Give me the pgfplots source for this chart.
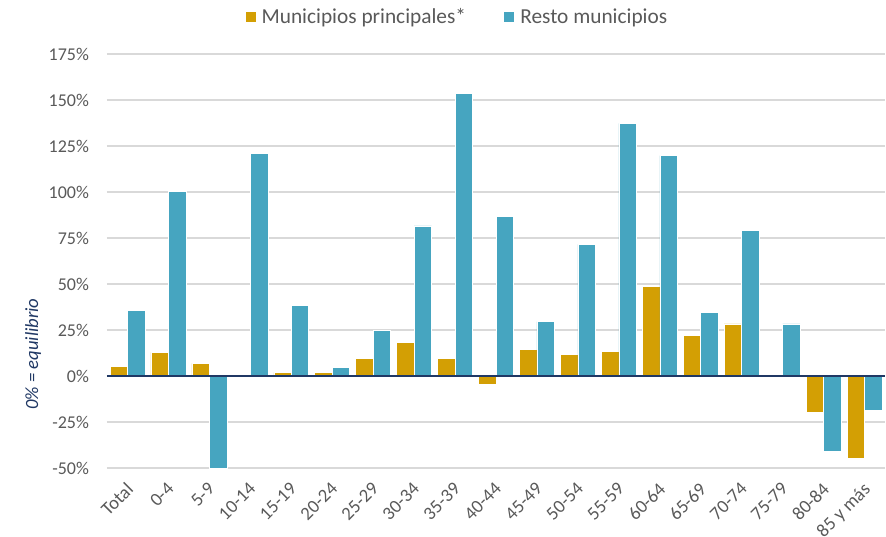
\documentclass[border=0pt]{standalone}
\usepackage{fontspec}
\setmainfont{Carlito}
\usepackage{pgfplots}
\pgfplotsset{compat=1.18}
\definecolor{gold}{HTML}{D39F04}
\definecolor{teal}{HTML}{46A5C0}
\definecolor{navy}{HTML}{203864}
\definecolor{gridc}{HTML}{D9D9D9}
\definecolor{txt}{HTML}{595959}
\begin{document}
\begin{tikzpicture}[x=0.75pt,y=0.75pt]
\begin{axis}[
  name=ax,
  scale only axis,
  width=583.5pt, height=310.5pt,
  xmin=-0.5, xmax=18.5,
  ymin=-50, ymax=175,
  ytick={-50,-25,0,25,50,75,100,125,150,175},
  yticklabel={\pgfmathprintnumber{\tick}\%},
  /pgf/number format/assume math mode=true,
  xtick={0,...,18},
  xticklabels={Total,0-4,5-9,10-14,15-19,20-24,25-29,30-34,35-39,40-44,45-49,50-54,55-59,60-64,65-69,70-74,75-79,80-84,85 y más},
  xticklabel style={xshift=-1.7pt, yshift=-8.6pt, rotate=45, anchor=north east, font=\fontsize{14pt}{16pt}\selectfont, text=txt, inner sep=1pt},
  yticklabel style={font=\fontsize{13.5pt}{15pt}\selectfont, text=txt, xshift=-10pt},
  axis line style={draw=none},
  major tick length=0pt,
  ymajorgrids,
  grid style={gridc, line width=1.2pt},
  ybar=0pt,
  bar width=13.1pt,
  ylabel={\itshape 0\% = equilibrio},
  ylabel style={at={(axis description cs:-0.095,0.275)}, anchor=center, text=navy, font=\fontsize{14pt}{16pt}\selectfont},
  legend columns=2,
  legend style={at={(0.452,1.089)}, anchor=center, draw=none, fill=none,
    font=\fontsize{16pt}{18pt}\selectfont, text=txt,
    nodes={inner xsep=4pt},
    /tikz/every even column/.append style={column sep=24pt}},
  legend image code/.code={\fill[#1] (0pt,-4pt) rectangle (8.25pt,4.25pt);},
]
\addplot[fill=gold, draw=white, line width=0.4pt] coordinates {
(0,5.4) (1,12.8) (2,6.8) (3,0.5) (4,1.9) (5,1.9) (6,9.5) (7,18.3) (8,9.4) (9,-4.5)
(10,14.5) (11,11.9) (12,13.2) (13,48.7) (14,22.1) (15,28.3) (16,0.5) (17,-19.5) (18,-44.9)};
\addplot[fill=teal, draw=white, line width=0.4pt] coordinates {
(0,35.5) (1,100.3) (2,-50) (3,120.9) (4,38.5) (5,4.5) (6,24.7) (7,81.6) (8,153.6) (9,86.7)
(10,29.6) (11,71.6) (12,137.3) (13,119.8) (14,34.7) (15,79.0) (16,28.3) (17,-41.0) (18,-18.5)};
\legend{Municipios principales*, Resto municipios}
\draw[navy, line width=1.3pt] (axis cs:-0.5,0) -- (axis cs:18.5,0);
\end{axis}
\pgfresetboundingbox
\path ([shift={(-80.25pt,-51pt)}]ax.south west) rectangle ([shift={(0.75pt,40.5pt)}]ax.north east);
\end{tikzpicture}
\end{document}
